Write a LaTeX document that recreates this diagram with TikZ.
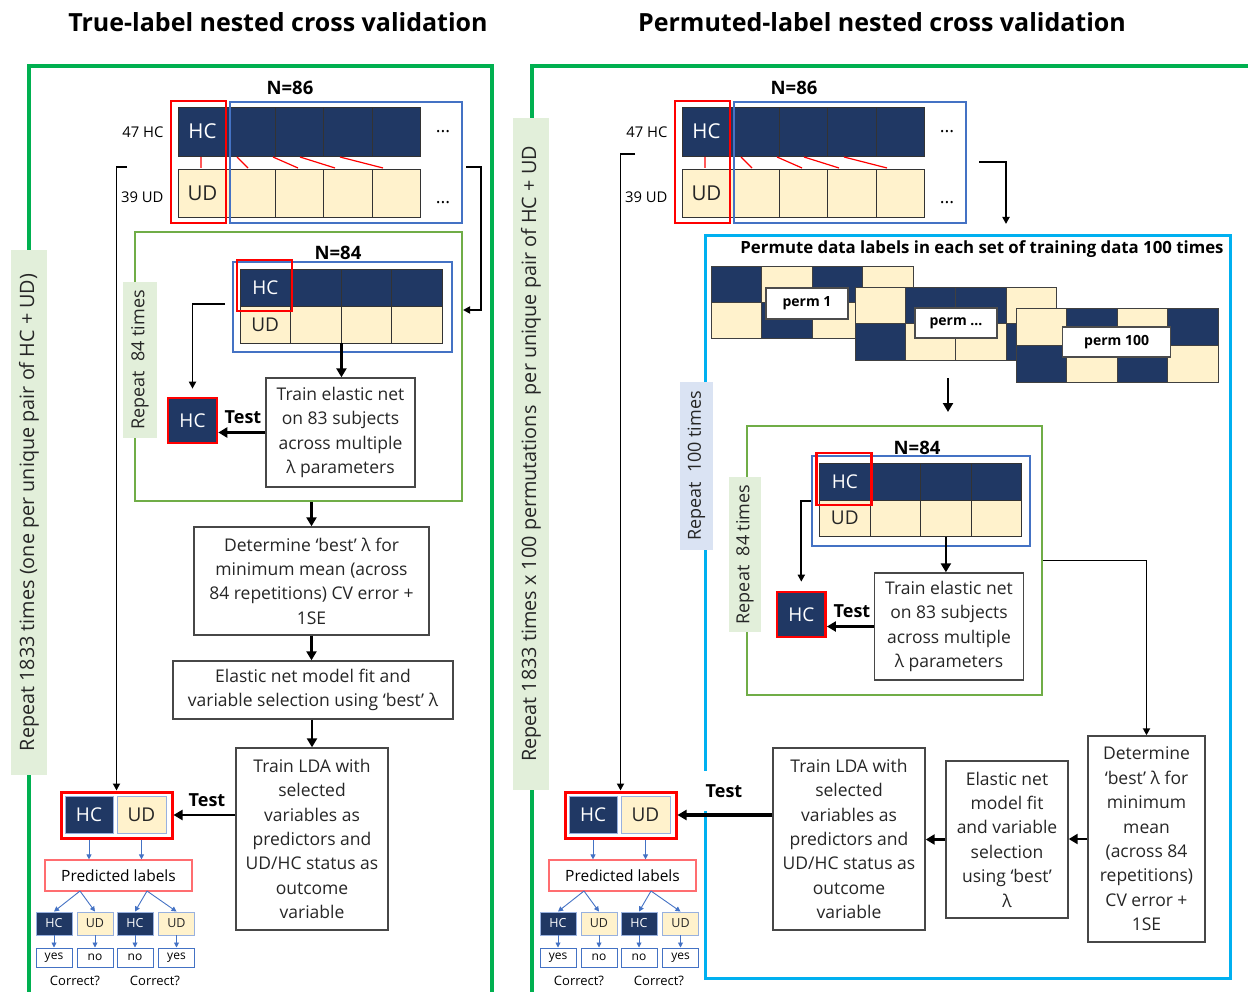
\documentclass[tikz,border=0pt]{standalone}
\usepackage{fontspec}
\setmainfont{Open Sans}
\usepackage{xcolor}
\definecolor{Navy}{HTML}{203864}
\definecolor{Sand}{HTML}{FFF2CC}
\definecolor{PickRed}{HTML}{FF0000}
\definecolor{PoolBlue}{HTML}{4472C4}
\definecolor{OuterGreen}{HTML}{00B050}
\definecolor{InnerGreen}{HTML}{70AD47}
\definecolor{TagGreen}{HTML}{E2EFDA}
\definecolor{TagBlue}{HTML}{DAE3F3}
\definecolor{PermCyan}{HTML}{00B0F0}
\definecolor{SoftRed}{HTML}{FF6D70}
\definecolor{Ink}{HTML}{262626}
\usepackage{tikz}
\usetikzlibrary{arrows.meta}
\newcommand{\fsz}[2]{\fontsize{#1}{#2}\selectfont}

\begin{document}
\begin{tikzpicture}[x=1pt,y=-1pt,
  box/.style={draw=Ink!85,line width=1.4pt,fill=white,align=center,inner sep=0pt,
              text=Ink,font=\fsz{17.5}{24.4}},
  hccell/.style={draw=black!80,line width=0.9pt,fill=Navy,text=white,inner sep=0pt},
  udcell/.style={draw=black!80,line width=0.9pt,fill=Sand,text=Ink,inner sep=0pt},
  pickframe/.style={draw=PickRed,line width=2.6pt,inner sep=0pt},
  poolframe/.style={draw=PoolBlue,line width=2.4pt,inner sep=0pt},
  repeattag/.style={fill=TagGreen,text=Ink,inner sep=0pt,rotate=90,font=\fsz{18}{20}},
  flow/.style={line width=2.6pt,-{Triangle[length=9pt,width=10pt]}},
  link/.style={line width=1.8pt,-{Triangle[length=7pt,width=7pt]}},
  tiny/.style={draw=PoolBlue,line width=0.9pt,-{Triangle[length=5pt,width=5pt]}},
  testlabel/.style={font=\bfseries\fsz{18}{20},inner sep=1pt},
  heading/.style={font=\bfseries\fsz{18.5}{20}},
  permtag/.style={draw=black!70,line width=1.2pt,fill=white,inner sep=0pt,font=\bfseries\fsz{14}{16}},
  cellline/.style={draw=black!75,line width=0.8pt}]
\useasboundingbox (0,0) rectangle (1248,992);

% titles
\node[font=\bfseries\fsz{25}{28}] (titleL) at (278,22) {True-label nested cross validation};
\node[font=\bfseries\fsz{25}{28}] (titleR) at (882,22) {Permuted-label nested cross validation};

% outer frames
\draw[OuterGreen,line width=4pt] (29,992) -- (29,66) -- (492,66) -- (492,992);
\draw[OuterGreen,line width=4pt] (532,992) -- (532,66) -- (1248,66);
\node[repeattag,minimum width=525,minimum height=36,font=\fsz{19.8}{22}] (rep1833L) at (29,512.5)
  {Repeat 1833 times (one per unique pair of HC + UD)};
\node[repeattag,minimum width=672,minimum height=36,font=\fsz{19.8}{22}] (rep1833R) at (531,454)
  {Repeat 1833 times x 100 permutations~ per unique pair of HC + UD};

% the parts both panels share
\foreach \side/\dx in {L/0,R/504}{
\begin{scope}[shift={(\dx,0)},name prefix=\side-]
  \node[heading] (n86) at (290,88) {N=86};
  \node[anchor=east,font=\fsz{14.8}{17}] (nhc) at (167,132) {47 HC};
  \node[anchor=east,font=\fsz{14.8}{17}] (nud) at (167,197) {39 UD};
  \node[hccell,minimum width=49,minimum height=49,font=\fsz{20.5}{22}] (hc0) at (202.5,131.5) {HC};
  \node[udcell,minimum width=49,minimum height=48,font=\fsz{20.5}{22}] (ud0) at (202.5,193) {UD};
  \foreach \i in {1,...,4}{
    \node[hccell,minimum width=48.5,minimum height=49] (hc\i) at (202.5+48.5*\i,131.5) {};
    \node[udcell,minimum width=48.5,minimum height=48] (ud\i) at (202.5+48.5*\i,193) {};
  }
  \draw[PickRed,line width=1.2pt] (201,157) -- (201,168) (237,157) -- (248,168)
    (273,157) -- (298,168) (300,157) -- (335,168) (340,157) -- (383,168);
  \node[pickframe,minimum width=55,minimum height=122] (pick) at (198.5,162) {};
  \node[poolframe,minimum width=232,minimum height=121] (pool) at (346,162.5) {};
  \node[font=\fsz{18}{20}] (moreA) at (443,132) {...};
  \node[font=\fsz{18}{20}] (moreB) at (443,203) {...};
  % held-out pair and its predicted labels
  \node[pickframe,line width=3pt,minimum width=111,minimum height=46] (pair) at (116.5,815) {};
  \node[hccell,draw=PoolBlue!55,minimum width=48,minimum height=37,font=\fsz{19}{20}] (phc) at (89,814.5) {HC};
  \node[udcell,draw=PoolBlue!55,minimum width=49,minimum height=37,font=\fsz{19}{20}] (pud) at (141.5,814.5) {UD};
  \node[draw=SoftRed,line width=1.2pt,minimum width=147,minimum height=31,inner sep=0pt,
        font=\fsz{15.5}{17}] (pred) at (118.5,875.5) {Predicted labels};
  \draw[tiny] (phc |- pair.south) -- (phc |- pred.north);
  \draw[tiny] (pud |- pair.south) -- (pud |- pred.north);
  \coordinate (forkA) at (80,891);
  \coordinate (forkB) at (147,891);
  \foreach \k/\x/\fc/\tc/\lab/\ans in {1/54/Navy/white/HC/yes,2/95/Sand/Ink/UD/no,
                                       3/135/Navy/white/HC/no,4/176.5/Sand/Ink/UD/yes}{
    \node[hccell,fill=\fc,text=\tc,draw=PoolBlue!55,minimum width=36,minimum height=23,
          font=\fsz{12.5}{14}] (guess\k) at (\x,923.5) {\lab};
    \node[draw=PoolBlue,line width=1pt,fill=white,minimum width=36,minimum height=19,
          inner sep=0pt,font=\fsz{12}{14}] (check\k) at (\x,957.5) {\ans};
    \draw[tiny] (guess\k) -- (check\k);
  }
  \draw[tiny] (forkA) -- (guess1.north);
  \draw[tiny] (forkA) -- (guess2.north);
  \draw[tiny] (forkB) -- (guess3.north);
  \draw[tiny] (forkB) -- (guess4.north);
  \node[font=\fsz{13}{15}] (correctA) at (75,981) {Correct?};
  \node[font=\fsz{13}{15}] (correctB) at (155,981) {Correct?};
\end{scope}
}

% true-label panel
\coordinate (L-loopTop) at (127,167);
\draw[link] (L-loopTop) -| (L-pair.north);
\coordinate (L-loopOut) at (466,167);
\coordinate (L-loopIn) at (463,310);
\draw[link] (L-loopOut) -- ++(15,0) |- (L-loopIn);
\node[draw=InnerGreen,line width=2.2pt,minimum width=327,minimum height=269,inner sep=0pt] (L-inner) at (298.5,366.5) {};
\node[repeattag,minimum width=156,minimum height=34] (L-rep84) at (140,360) {Repeat~ 84 times};
\node[heading] (L-n84) at (338,253) {N=84};
\node[hccell,minimum width=50.5,minimum height=37,font=\fsz{19}{20}] (L-ihc0) at (265.25,287.5) {HC};
\node[udcell,minimum width=50.5,minimum height=37,font=\fsz{19}{20}] (L-iud0) at (265.25,324.5) {UD};
\foreach \i in {1,2,3}{
  \node[hccell,minimum width=50.5,minimum height=37] (L-ihc\i) at (265.25+50.5*\i,287.5) {};
  \node[udcell,minimum width=50.5,minimum height=37] (L-iud\i) at (265.25+50.5*\i,324.5) {};
}
\node[poolframe,minimum width=219,minimum height=90] (L-ipool) at (342.5,307) {};
\node[pickframe,minimum width=55,minimum height=51] (L-ipick) at (264.5,285.5) {};
\node[box,minimum width=149,minimum height=109] (L-train) at (340.5,432.5)
  {Train elastic net\\on 83 subjects\\across multiple\\λ parameters};
\draw[flow] (L-iud1.south east) -- (L-iud1.south east |- L-train.north);
\node[hccell,draw=PickRed,line width=2.6pt,minimum width=49,minimum height=45,font=\fsz{19}{20}] (L-held) at (192.5,420.5) {HC};
\coordinate (L-split) at (225,304);
\draw[link] (L-split) -| ([yshift=8pt]L-held.north);
\node[testlabel] (L-test1) at (243,417) {Test};
\draw[flow] (L-train.west) -- (L-train.west -| L-held.east);
\node[box,minimum width=235,minimum height=108] (L-best) at (311.5,581)
  {Determine ‘best’ λ for\\minimum mean (across\\84 repetitions) CV error +\\1SE};
\node[box,minimum width=280,minimum height=58] (L-fit) at (313,690)
  {Elastic net model fit and\\variable selection using ‘best’ λ};
\node[box,minimum width=152,minimum height=182] (L-lda) at (312,839)
  {Train LDA with\\selected\\variables as\\predictors and\\UD/HC status as\\outcome\\variable};
\draw[flow] (L-best.north |- L-inner.south) -- (L-best.north);
\draw[flow] (L-best.south) -- (L-best.south |- L-fit.north);
\draw[flow] (L-fit.south -| L-lda.north) -- (L-lda.north);
\draw[flow] (L-lda.west |- L-pair.east) -- (L-pair.east);
\node[testlabel] (L-test2) at (207,800) {Test};

% permuted-label panel
\coordinate (R-loopTop) at (635,154);
\draw[link] (R-loopTop) -| (R-pair.north);
\coordinate (R-loopOut) at (979,162);
\coordinate (R-permIn) at (1006,224);
\draw[link] (R-loopOut) -| (R-permIn);
\node[draw=PermCyan,line width=3pt,minimum width=525,minimum height=742,inner sep=0pt] (R-perm) at (967.5,607) {};
\node[font=\bfseries\fsz{16.8}{19}] (R-permtitle) at (982,249)
  {Permute data labels in each set of training data 100 times};
% three shuffled copies
\foreach \gx/\gy/\cw/\ch/\rowA/\rowB in {
    711/266/50.6/36.3/{Navy,Sand,Navy,Sand}/{Sand,Navy,Sand,Navy},
    855/287/50.35/36.6/{Sand,Navy,Navy,Sand}/{Navy,Sand,Sand,Navy},
    1016/308/50.5/37/{Sand,Navy,Sand,Navy}/{Navy,Sand,Navy,Sand}}{
  \foreach \c [count=\k from 0] in \rowA
    \filldraw[cellline,fill=\c] (\gx+\cw*\k,\gy) rectangle ++(\cw,\ch);
  \foreach \c [count=\k from 0] in \rowB
    \filldraw[cellline,fill=\c] (\gx+\cw*\k,\gy+\ch) rectangle ++(\cw,\ch);
}
\node[permtag,minimum width=82,minimum height=31] (R-perm1) at (807,303.5) {perm 1};
\node[permtag,minimum width=82,minimum height=30] (R-permdots) at (956,323) {perm ...};
\node[permtag,minimum width=108,minimum height=30] (R-perm100) at (1116.6,342) {perm 100};
\coordinate (R-permOut) at (948,378);
\coordinate (R-permEnd) at (948,412);
\draw[flow] (R-permOut) -- (R-permEnd);
\node[repeattag,fill=TagBlue,minimum width=168,minimum height=33] (R-rep100) at (696.5,466) {Repeat~ 100 times};
\node[draw=InnerGreen,line width=2.2pt,minimum width=295,minimum height=269,inner sep=0pt] (R-inner) at (894.5,560.5) {};
\node[repeattag,minimum width=155,minimum height=32.5] (R-rep84) at (745,554.5) {Repeat~ 84 times};
\node[heading] (R-n84) at (917,448) {N=84};
\node[hccell,minimum width=50.55,minimum height=36.7,font=\fsz{19}{20}] (R-ihc0) at (844.8,481.65) {HC};
\node[udcell,minimum width=50.55,minimum height=36.5,font=\fsz{19}{20}] (R-iud0) at (844.8,518.25) {UD};
\foreach \i in {1,2,3}{
  \node[hccell,minimum width=50.55,minimum height=36.7] (R-ihc\i) at (844.8+50.55*\i,481.65) {};
  \node[udcell,minimum width=50.55,minimum height=36.5] (R-iud\i) at (844.8+50.55*\i,518.25) {};
}
\node[poolframe,minimum width=218,minimum height=90] (R-ipool) at (921,501) {};
\node[pickframe,minimum width=54.7,minimum height=52] (R-ipick) at (844,479) {};
\node[box,minimum width=149,minimum height=107] (R-train) at (949,626.5)
  {Train elastic net\\on 83 subjects\\across multiple\\λ parameters};
\draw[flow] (R-iud2.south) -- (R-iud2.south |- R-train.north);
\node[hccell,draw=PickRed,line width=2.6pt,minimum width=48.6,minimum height=45,font=\fsz{19}{20}] (R-held) at (801.3,614.5) {HC};
\coordinate (R-split) at (811,501);
\draw[link] (R-split) -| ([yshift=9pt]R-held.north);
\node[testlabel] (R-test1) at (852,611) {Test};
\draw[flow] (R-train.west) -- (R-train.west -| R-held.east);
\node[box,minimum width=117,minimum height=206] (R-best) at (1146.5,839)
  {Determine\\‘best’ λ for\\minimum\\mean\\(across 84\\repetitions)\\CV error +\\1SE};
\node[box,minimum width=122,minimum height=157] (R-fit) at (1007,839.5)
  {Elastic net\\model fit\\and variable\\selection\\using ‘best’\\λ};
\node[box,minimum width=152,minimum height=182] (R-lda) at (849,839)
  {Train LDA with\\selected\\variables as\\predictors and\\UD/HC status as\\outcome\\variable};
\draw[link] (R-inner.east) -| (R-best.north);
\draw[flow] (R-best.west) -- (R-best.west -| R-fit.east);
\draw[flow] (R-fit.west) -- (R-fit.west -| R-lda.east);
\node[testlabel,fill=white,minimum width=50,minimum height=40] (R-test2) at (724,791) {Test};
\draw[flow,line width=3.2pt] (R-lda.west |- R-pair.east) -- (R-pair.east);
\end{tikzpicture}
\end{document}
